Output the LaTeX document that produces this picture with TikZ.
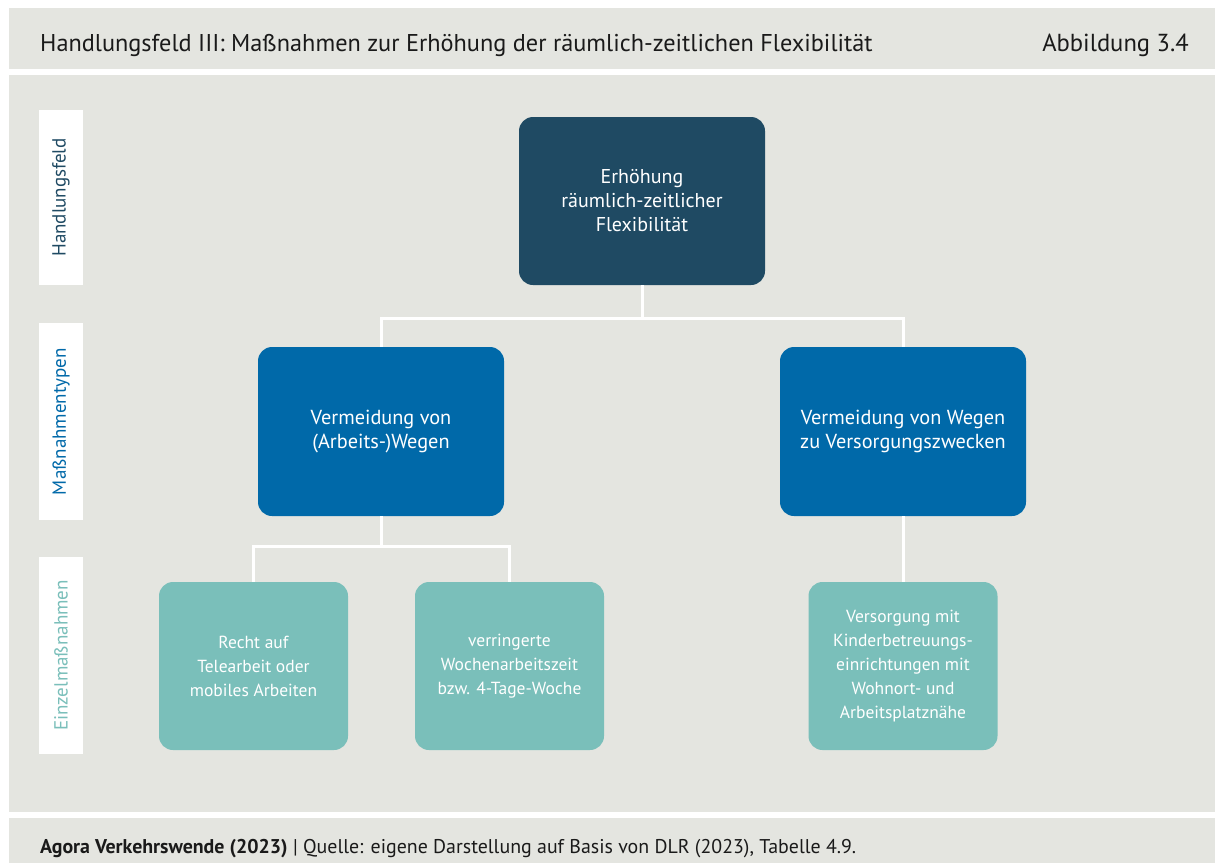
\documentclass[tikz,border=0pt]{standalone}
\usepackage{fontspec}
\setmainfont{PT Sans}
\usetikzlibrary{calc}
\definecolor{panel}{HTML}{E4E5E0}
\definecolor{darkblue}{HTML}{1F4A63}
\definecolor{midblue}{HTML}{0069A9}
\definecolor{teal}{HTML}{7ABFBA}
\definecolor{txt}{HTML}{1A1A1A}
\begin{document}
\begin{tikzpicture}[x=1pt,y=-1pt,
  box/.style={rounded corners=14pt, text=white, align=center, inner sep=0pt},
  topbox/.style={box, fill=darkblue, minimum width=246pt, minimum height=168pt, font=\fontsize{20}{24}\selectfont},
  midbox/.style={box, fill=midblue, minimum width=246pt, minimum height=169pt, font=\fontsize{20.3}{24}\selectfont},
  leafbox/.style={box, fill=teal, minimum width=189pt, minimum height=168pt, font=\fontsize{17.5}{24}\selectfont},
  levelbox/.style={fill=white, rotate=90, minimum height=44pt, inner sep=0pt, font=\fontsize{19}{20}\selectfont},
  link/.style={draw=white, line width=3pt}]
\useasboundingbox (0,0) rectangle (1215,863);
\fill[white] (0,0) rectangle (1215,863);
% panels
\fill[panel] (9,8) rectangle (1215,69);
\fill[panel] (9,75) rectangle (1215,812);
\fill[panel] (9,818) rectangle (1215,863);
% header and footer
\node[anchor=base west, text=txt, font=\fontsize{24.3}{26}\selectfont, inner sep=0pt] (title) at (40,51)
  {Handlungsfeld III: Maßnahmen zur Erhöhung der räumlich-zeitlichen Flexibilität};
\node[anchor=base east, text=txt, font=\fontsize{24.6}{26}\selectfont, inner sep=0pt] (fig) at (1189,51)
  {Abbildung 3.4};
\node[anchor=base west, text=txt, font=\fontsize{19.9}{22}\selectfont, inner sep=0pt] (source) at (40,853)
  {\textbf{Agora Verkehrswende (2023)} | Quelle: eigene Darstellung auf Basis von DLR (2023), Tabelle 4.9.};
% level labels
\node[levelbox, minimum width=175pt, text=darkblue] (l1) at (61,197.5) {Handlungsfeld};
\node[levelbox, minimum width=197pt, text=midblue] (l2) at (61,421.5) {Maßnahmentypen};
\node[levelbox, minimum width=197pt, text=teal] (l3) at (61,655.5) {Einzelmaßnahmen};
% hierarchy
\node[topbox] (top) at (642,201) {Erhöhung\\räumlich-zeitlicher\\Flexibilität};
\node[midbox] (ml) at (381,431.5) {Vermeidung von\\(Arbeits-)Wegen};
\node[midbox] (mr) at (903,431.5) {Vermeidung von Wegen\\zu Versorgungszwecken};
\node[leafbox] (b1) at (253.5,666) {Recht auf\\Telearbeit oder\\mobiles Arbeiten};
\node[leafbox] (b2) at (509.5,666) {verringerte\\Wochenarbeitszeit\\bzw. 4-Tage-Woche};
\node[leafbox] (b3) at (903,666) {Versorgung mit\\Kinderbetreuungs-\\einrichtungen mit\\Wohnort- und\\Arbeitsplatznähe};
% connectors
\coordinate (bus1) at (642,318);
\coordinate (bus2) at (381,546);
\draw[link] (top.south) -- (bus1) -| (ml.north);
\draw[link] (bus1) -| (mr.north);
\draw[link] (ml.south) -- (bus2) -| (b1.north);
\draw[link] (bus2) -| (b2.north);
\draw[link] (mr.south) -- (b3.north);
\end{tikzpicture}
\end{document}
